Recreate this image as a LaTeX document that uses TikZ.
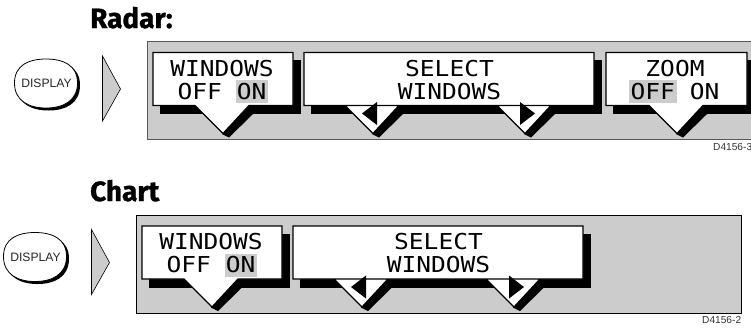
\documentclass[tikz,border=0pt]{standalone}
\usepackage{fontspec}
\newfontfamily\lcdfont[FakeStretch=1.12]{DejaVu Sans Mono}
\newfontfamily\titlefont[FakeBold=1.2]{Fira Sans}
\newfontfamily\labfont{Liberation Sans}
\definecolor{panelgray}{HTML}{CCCCCC}
\tikzset{
  panel/.style={fill=panelgray,draw=black!65,line width=1pt},
  chartpanel/.style={fill=panelgray,draw=black,line width=0.8pt},
  callout/.style={fill=white,draw=black,line width=1.3pt,line join=miter},
  lcd/.style={inner sep=0pt,anchor=base,font=\lcdfont\fontsize{22}{22}\selectfont,text=black},
  hilite/.style={fill=panelgray,draw=none},
  titletext/.style={inner sep=0pt,anchor=base west,font=\titlefont\bfseries\fontsize{28}{28}\selectfont},
  dispt/.style={inner sep=0pt,font=\labfont\fontsize{12.2}{13}\selectfont,text=black!85},
  code/.style={inner sep=0pt,anchor=base west,font=\labfont\fontsize{10.2}{11}\selectfont,text=black!80},
  arrowbox/.style={fill=panelgray,draw=black,line width=0.6pt,line join=miter},
  tri/.style={fill=black,draw=none}
}
% left, right, list of pointer-tip x
\newcommand{\calloutbox}[3]{%
  \fill[black] ({#2-1},60) rectangle ({#2+8},114);
  \fill[black] ({#1+7},105) rectangle ({#2+8},114);
  \foreach \t in {#3}{
    \fill[black] ({\t+19},105) -- ({\t+30},105) -- ({\t+30},114) -- ({\t+6},137.5) -- ({\t-1},134) -- cycle;
  }
  \draw[callout] ({#1},52.5) -- ({#2},52.5) -- ({#2},105.5)
    \foreach \t in {#3}{ -- ({\t+26},105.5) -- ({\t},133.5) -- ({\t-28},105.5) } -- ({#1},105.5) -- cycle;
}
\newcommand{\dispbutton}[1]{%
  \fill[black] (16.5,85) .. controls (16.5,67) and (32,61) .. (48.5,61) .. controls (65,61) and (80,67) .. (80,85) .. controls (80,104) and (65,110.5) .. (48.5,110.5) .. controls (32,110.5) and (16.5,104) .. (16.5,85) -- cycle;
  \draw[fill=white,draw=black,line width=0.8pt] (14.5,83) .. controls (14.5,65) and (29,59) .. (46,59) .. controls (63,59) and (77.5,65) .. (77.5,83) .. controls (77.5,101) and (63,108) .. (46,108) .. controls (29,108) and (14.5,101) .. (14.5,83) -- cycle;
  \node[dispt] (#1) at (46.5,83.5) {DISPLAY};
  \draw[arrowbox] (102.5,56) -- (120.5,89) -- (102.5,121) -- cycle;
}
\newcommand{\windowsbox}[1]{%
  \calloutbox{153}{293}{223}
  \fill[hilite] (236,80) rectangle (268,103);
  \node[lcd] (#1w) at (222,76) {WINDOWS};
  \node[lcd] (#1o) at (222,99) {OFF ON};
}
\newcommand{\selectbox}[3]{%
  \calloutbox{304}{#2}{373,#3}
  \node[lcd] (#1s) at ({(304+#2)/2+0.5},76) {SELECT};
  \node[lcd] (#1w) at ({(304+#2)/2+0.5},99) {WINDOWS};
  \fill[tri] (362,113.5) -- (377,102) -- (377,125) -- cycle;
  \fill[tri] ({#3-5},102) -- ({#3+10},113.5) -- ({#3-5},125) -- cycle;
}
\begin{document}
\begin{tikzpicture}[x=1bp,y=-1bp]
\useasboundingbox (0,0) rectangle (751,328);
% Radar
\node[titletext] (radartitle) at (90,28) {Radar:};
\dispbutton{radarbtn}
\draw[panel] (147.5,41.5) rectangle (755,139.5);
\windowsbox{ra}
\selectbox{rb}{594}{525}
\calloutbox{606}{747}{677}
\fill[hilite] (629,80) rectangle (677,103);
\node[lcd] (rcz) at (675,76) {ZOOM};
\node[lcd] (rco) at (675,99) {OFF ON};
\node[code] (radarcode) at (713,150.5) {D4156-3};
% Chart
\begin{scope}[shift={(-11,173.5)}]
\node[titletext] (charttitle) at (101,27.5) {Chart};
\dispbutton{chartbtn}
\draw[chartpanel] (147.7,41.8) rectangle (752.7,139.5);
\windowsbox{ca}
\selectbox{cb}{594}{525}
\node[code] (chartcode) at (713,150) {D4156-2};
\end{scope}
\end{tikzpicture}
\end{document}
